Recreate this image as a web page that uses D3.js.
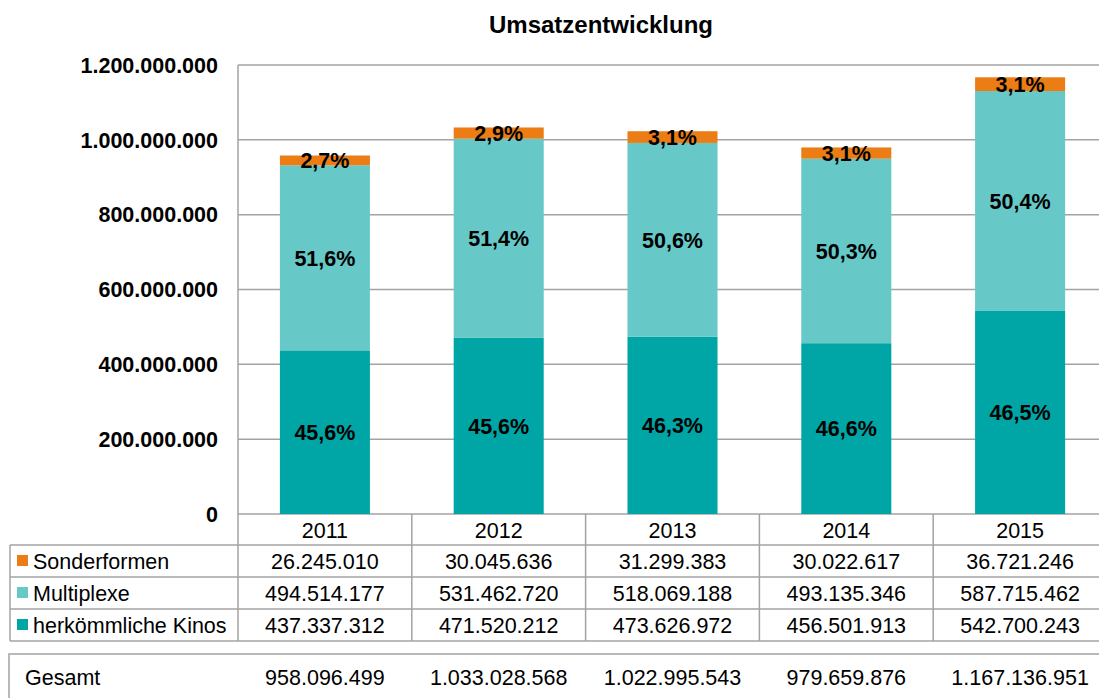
<!DOCTYPE html>
<html>
<head>
<meta charset="utf-8">
<script src="https://cdn.jsdelivr.net/npm/d3@7"></script>
<style>
  html, body { margin: 0; padding: 0; background: #fff; overflow: hidden; }
  svg { display: block; font-family: "Liberation Sans", Arial, sans-serif; }
</style>
</head>
<body>
<div id="canvas"></div>
<script>
var years = ['2011','2012','2013','2014','2015'];
var seriesNames = ['Sonderformen','Multiplexe','herkömmliche Kinos'];
var sonderformen = [26245010, 30045636, 31299383, 30022617, 36721246];
var multiplexe = [494514177, 531462720, 518069188, 493135346, 587715462];
var herkoemmliche = [437337312, 471520212, 473626972, 456501913, 542700243];
var yTicks = [0, 200000000, 400000000, 600000000, 800000000, 1000000000, 1200000000];

var colors = {
  'Sonderformen': '#ec7d14',
  'Multiplexe': '#67c8c8',
  'herkömmliche Kinos': '#00a5a5'
};

var W = 1099, H = 698;
var plotL = 238, plotR = 1107, plotT = 65, plotB = 514;
var gridColor = '#a3a3a3';

var de = d3.formatLocale({decimal: ',', thousands: '.', grouping: [3], currency: ['', '€']});
var fmtNum = de.format(',.0f');
var fmtPct = de.format('.1%');

var svg = d3.select('#canvas')
    .append('svg')
    .attr('width', W)
    .attr('height', H);

// build stacked data
var rows = years.map(function(y, i){
    return {
        year: y,
        'Sonderformen': sonderformen[i],
        'Multiplexe': multiplexe[i],
        'herkömmliche Kinos': herkoemmliche[i],
        total: sonderformen[i] + multiplexe[i] + herkoemmliche[i]
    };
});
var stackOrder = ['herkömmliche Kinos','Multiplexe','Sonderformen'];
var stacked = d3.stack().keys(stackOrder)(rows);

var x = d3.scaleBand().domain(years).range([plotL, plotR]).paddingInner(0).paddingOuter(0);
var y = d3.scaleLinear().domain([0, 1200000000]).range([plotB, plotT]);
var barW = x.bandwidth() * 0.518;

// title
svg.append('text')
    .attr('x', 601).attr('y', 33)
    .attr('text-anchor', 'middle')
    .style('font-size', '24px').style('font-weight', 'bold')
    .text('Umsatzentwicklung');

// gridlines
svg.append('g').selectAll('line')
    .data(yTicks)
    .enter().append('line')
    .attr('x1', plotL).attr('x2', W)
    .attr('y1', function(d){ return y(d); })
    .attr('y2', function(d){ return y(d); })
    .attr('stroke', gridColor).attr('stroke-width', 1.5);

// y labels
svg.append('g').selectAll('text')
    .data(yTicks)
    .enter().append('text')
    .attr('x', 218)
    .attr('y', function(d){ return y(d); })
    .attr('dy', '0.36em')
    .attr('text-anchor', 'end')
    .style('font-size', '21.5px').style('font-weight', 'bold')
    .text(function(d){ return fmtNum(d); });

// bars
var layers = svg.append('g').selectAll('g')
    .data(stacked)
    .enter().append('g')
    .attr('fill', function(d){ return colors[d.key]; });

layers.selectAll('rect')
    .data(function(d){ return d; })
    .enter().append('rect')
    .attr('x', function(d){ return x(d.data.year) + (x.bandwidth() - barW) / 2; })
    .attr('width', barW)
    .attr('y', function(d){ return y(d[1]); })
    .attr('height', function(d){ return y(d[0]) - y(d[1]); });

// percent labels
layers.selectAll('text')
    .data(function(d){
        return d.map(function(p){ return {p: p, key: d.key}; });
    })
    .enter().append('text')
    .attr('x', function(d){ return x(d.p.data.year) + x.bandwidth() / 2; })
    .attr('y', function(d){ return (y(d.p[0]) + y(d.p[1])) / 2; })
    .attr('dy', '0.36em')
    .attr('text-anchor', 'middle')
    .attr('fill', '#000')
    .style('font-size', '21.5px').style('font-weight', 'bold')
    .text(function(d){ return fmtPct(d.p.data[d.key] / d.p.data.total); });

// data table
var rowH = 32;
var headTop = plotB, tableTop = plotB + 31;
var tableLeft = 10;
var tbl = svg.append('g');

// horizontal lines
tbl.selectAll('line.h')
    .data([0, 1, 2, 3])
    .enter().append('line')
    .attr('x1', tableLeft).attr('x2', W)
    .attr('y1', function(d){ return tableTop + d * rowH; })
    .attr('y2', function(d){ return tableTop + d * rowH; })
    .attr('stroke', gridColor).attr('stroke-width', 1.5);

// vertical column lines
var colEdges = years.map(function(d){ return x(d); }).concat([plotR]);
tbl.selectAll('line.v')
    .data(colEdges)
    .enter().append('line')
    .attr('x1', function(d){ return d; }).attr('x2', function(d){ return d; })
    .attr('y1', function(d, i){ return i === 0 ? plotT : headTop; })
    .attr('y2', tableTop + 3 * rowH)
    .attr('stroke', gridColor).attr('stroke-width', 1.5);

tbl.append('line')
    .attr('x1', tableLeft).attr('x2', tableLeft)
    .attr('y1', tableTop).attr('y2', tableTop + 3 * rowH)
    .attr('stroke', gridColor).attr('stroke-width', 1.5);

// year headers
tbl.selectAll('text.year')
    .data(years)
    .enter().append('text')
    .attr('x', function(d){ return x(d) + x.bandwidth() / 2; })
    .attr('y', headTop + 16)
    .attr('dy', '0.36em')
    .attr('text-anchor', 'middle')
    .style('font-size', '21.5px')
    .text(function(d){ return d; });

var tableSeries = [sonderformen, multiplexe, herkoemmliche];
seriesNames.forEach(function(name, r){
    var cy = tableTop + r * rowH + rowH / 2;
    tbl.append('rect')
        .attr('x', 17).attr('y', cy - 6)
        .attr('width', 11).attr('height', 11)
        .attr('fill', colors[name]);
    tbl.append('text')
        .attr('x', 33).attr('y', cy)
        .attr('dy', '0.36em')
        .style('font-size', '21.5px')
        .text(name);
    tbl.selectAll(null)
        .data(tableSeries[r])
        .enter().append('text')
        .attr('x', function(d, i){ return x(years[i]) + x.bandwidth() / 2; })
        .attr('y', cy)
        .attr('dy', '0.36em')
        .attr('text-anchor', 'middle')
        .style('font-size', '21.5px')
        .text(function(d){ return fmtNum(d); });
});

// Gesamt box
var gTop = 654;
tbl.append('path')
    .attr('d', 'M' + W + ',' + gTop + 'H9V' + (H + 2))
    .attr('fill', 'none')
    .attr('stroke', gridColor).attr('stroke-width', 1.5);

tbl.append('text')
    .attr('x', 25).attr('y', 677)
    .attr('dy', '0.36em')
    .style('font-size', '21.5px')
    .text('Gesamt');

tbl.selectAll('text.total')
    .data(rows)
    .enter().append('text')
    .attr('x', function(d){ return x(d.year) + x.bandwidth() / 2; })
    .attr('y', 677)
    .attr('dy', '0.36em')
    .attr('text-anchor', 'middle')
    .style('font-size', '21.5px')
    .text(function(d){ return fmtNum(d.total); });
</script>
</body>
</html>
